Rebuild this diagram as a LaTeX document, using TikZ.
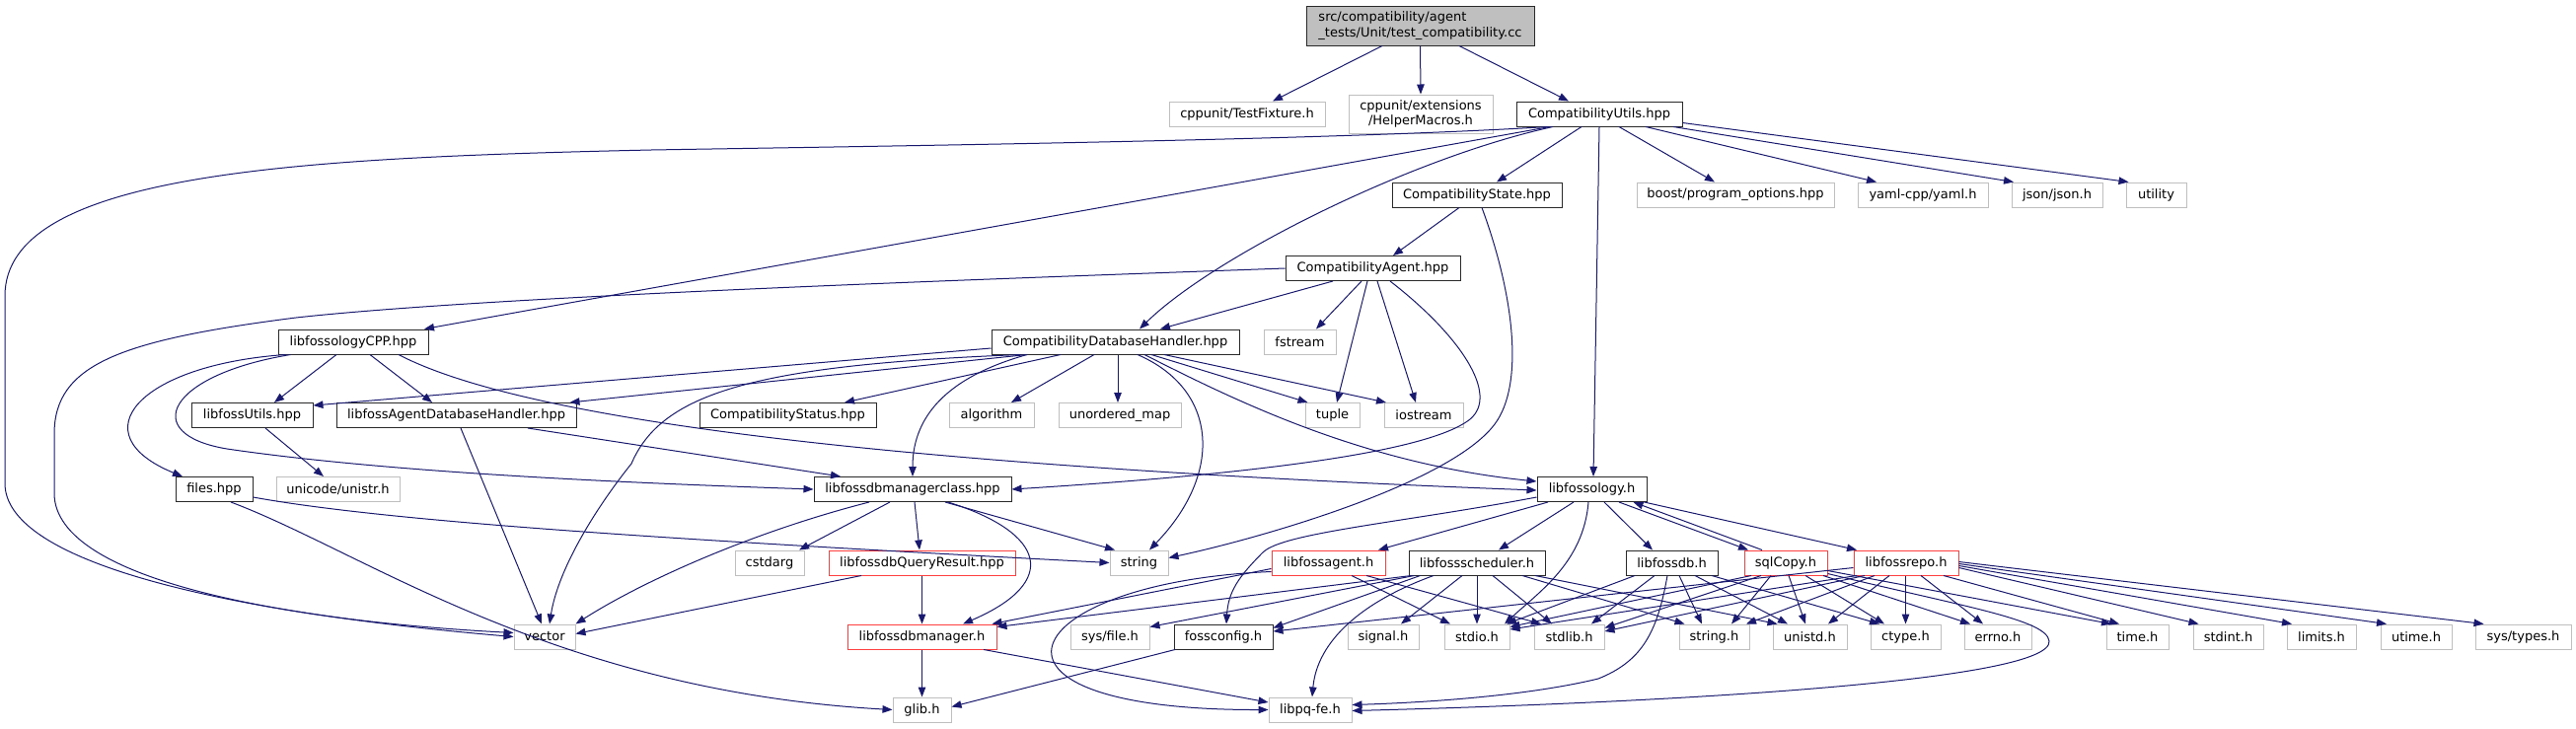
\documentclass[tikz,border=0pt]{standalone}
\usepackage{fontspec}
\newfontfamily\dvs{DejaVu Sans}
\usetikzlibrary{arrows.meta,calc}
\definecolor{edgec}{HTML}{191970}
\definecolor{greyb}{HTML}{BFBFBF}
\definecolor{redb}{HTML}{FF4040}
\definecolor{darkb}{HTML}{2A2A2A}
\definecolor{rootfill}{HTML}{BFBFBF}
\newcommand\gfont{\dvs\fontsize{13}{15.5}\selectfont}
\tikzset{
  nd/.style={draw, rectangle, fill=white, inner sep=0pt, minimum height=25pt, font=\gfont, text=black, line width=1pt},
  docn/.style={nd, draw=darkb},
  extn/.style={nd, draw=greyb},
  redn/.style={nd, draw=redb},
  e/.style={draw=edgec, line width=1pt, -{Triangle[length=10pt,width=7.5pt]}},
}
\begin{document}
\begin{tikzpicture}[x=1pt,y=-1pt]
\fill[white] (0,0) rectangle (2611,739);
\useasboundingbox (0,0) rectangle (2611,739);
% nodes
\node[docn, fill=rootfill, minimum width=231pt, minimum height=40pt, align=left] (root) at (1439.5,26) {src/compatibility/agent\\\_tests/Unit/test\_compatibility.cc};
\node[extn, minimum width=158pt] (tf) at (1264,115.5) {cppunit/TestFixture.h};
\node[extn, minimum width=146pt, minimum height=39pt, align=center] (hm) at (1440,115.5) {cppunit/extensions\\/HelperMacros.h};
\node[docn, minimum width=168pt] (cu) at (1621,115.5) {CompatibilityUtils.hpp};
\node[docn, minimum width=172pt] (cs) at (1497,197.5) {CompatibilityState.hpp};
\node[extn, minimum width=200pt] (boost) at (1759,197.5) {boost/program\_options.hpp};
\node[extn, minimum width=132pt] (yaml) at (1949,197.5) {yaml-cpp/yaml.h};
\node[extn, minimum width=92pt] (json) at (2085,197.5) {json/json.h};
\node[extn, minimum width=61pt] (utility) at (2185.5,197.5) {utility};
\node[docn, minimum width=177pt] (ca) at (1391.5,272) {CompatibilityAgent.hpp};
\node[docn, minimum width=152pt] (lfcpp) at (358,346.5) {libfossologyCPP.hpp};
\node[docn, minimum width=251pt] (cdh) at (1130.5,346.5) {CompatibilityDatabaseHandler.hpp};
\node[extn, minimum width=73pt] (fstream) at (1317.5,346.5) {fstream};
\node[docn, minimum width=123pt] (lfu) at (255.5,421) {libfossUtils.hpp};
\node[docn, minimum width=243pt] (ladh) at (462.5,421) {libfossAgentDatabaseHandler.hpp};
\node[docn, minimum width=179pt] (cstat) at (798.5,421) {CompatibilityStatus.hpp};
\node[extn, minimum width=86pt] (algo) at (1005,421) {algorithm};
\node[extn, minimum width=124pt] (umap) at (1135,421) {unordered\_map};
\node[extn, minimum width=55pt] (tuple) at (1350.5,421) {tuple};
\node[extn, minimum width=80pt] (iostream) at (1443,421) {iostream};
\node[docn, minimum width=78pt] (files) at (217,496) {files.hpp};
\node[extn, minimum width=125pt] (unistr) at (342.5,496) {unicode/unistr.h};
\node[docn, minimum width=200pt] (ldbmc) at (925,496) {libfossdbmanagerclass.hpp};
\node[docn, minimum width=111pt] (lfology) at (1613.5,496) {libfossology.h};
\node[extn, minimum width=70pt] (cstdarg) at (780,570.5) {cstdarg};
\node[redn, minimum width=189pt] (qres) at (934.5,570.5) {libfossdbQueryResult.hpp};
\node[extn, minimum width=59pt] (string) at (1154.5,570.5) {string};
\node[redn, minimum width=115pt] (lfagent) at (1346.5,570.5) {libfossagent.h};
\node[docn, minimum width=138pt] (lfsched) at (1497,570.5) {libfossscheduler.h};
\node[docn, minimum width=93pt] (lfdb) at (1694.5,570.5) {libfossdb.h};
\node[redn, minimum width=84pt] (sqlc) at (1810,570.5) {sqlCopy.h};
\node[redn, minimum width=106pt] (lfrepo) at (1932,570.5) {libfossrepo.h};
\node[extn, minimum width=62pt] (vector) at (552,645.5) {vector};
\node[redn, minimum width=151pt] (ldbm) at (934.5,645.5) {libfossdbmanager.h};
\node[extn, minimum width=80pt] (sysfile) at (1125,645.5) {sys/file.h};
\node[docn, minimum width=100pt] (fossconfig) at (1240,645.5) {fossconfig.h};
\node[extn, minimum width=72pt] (signal) at (1402,645.5) {signal.h};
\node[extn, minimum width=66pt] (stdio) at (1497,645.5) {stdio.h};
\node[extn, minimum width=71pt] (stdlib) at (1590.5,645.5) {stdlib.h};
\node[extn, minimum width=71pt] (stringh) at (1737.5,645.5) {string.h};
\node[extn, minimum width=75pt] (unistd) at (1834.5,645.5) {unistd.h};
\node[extn, minimum width=71pt] (ctype) at (1931.5,645.5) {ctype.h};
\node[extn, minimum width=68pt] (errno) at (2025,645.5) {errno.h};
\node[extn, minimum width=63pt] (timeh) at (2166.5,645.5) {time.h};
\node[extn, minimum width=71pt] (stdint) at (2258.5,645.5) {stdint.h};
\node[extn, minimum width=70pt] (limits) at (2353,645.5) {limits.h};
\node[extn, minimum width=72pt] (utime) at (2449,645.5) {utime.h};
\node[extn, minimum width=97pt] (systypes) at (2557.5,645.5) {sys/types.h};
\node[extn, minimum width=59pt] (glib) at (934.5,719.5) {glib.h};
\node[extn, minimum width=84pt] (libpq) at (1328,719.5) {libpq-fe.h};
% root
\draw[e] ($(root.south)+(-38.5,0)$) -- ($(tf.north)+(26,0)$);
\draw[e] (root.south) -- (hm.north);
\draw[e] ($(root.south)+(39.5,0)$) -- ($(cu.north)+(-31,0)$);
% CompatibilityUtils
\draw[e] ($(cu.south)+(-52,0)$) .. controls (1350,142) and (900,148) .. (660,152) .. controls (300,160) and (5,175) .. (5,300) -- (5,490) .. controls (5,565) and (200,618) .. (vector.west);
\draw[e] ($(cu.south)+(-50,0)$) -- ($(lfcpp.north)+(72,0)$);
\draw[e] ($(cu.south)+(-47,0)$) .. controls (1430,160) and (1230,260) .. ($(cdh.north)+(24.5,0)$);
\draw[e] ($(cu.south)+(-18,0)$) -- ($(cs.north)+(20,0)$);
\draw[e] (cu.south) -- ($(lfology.north)+(1.5,0)$);
\draw[e] ($(cu.south)+(20,0)$) -- ($(boost.north)+(-21,0)$);
\draw[e] ($(cu.south)+(47,0)$) -- ($(yaml.north)+(-47,0)$);
\draw[e] ($(cu.south)+(75,0)$) -- ($(json.north)+(-44,0)$);
\draw[e] ($(cu.south east)+(0,-4)$) -- ($(utility.north)+(-28,0)$);
% CompatibilityState
\draw[e] ($(cs.south)+(-18,0)$) -- ($(ca.north)+(20.5,0)$);
\draw[e] ($(cs.south)+(5,0)$) .. controls (1535,300) and (1545,390) .. (1515,430) .. controls (1470,490) and (1280,545) .. ($(string.east)+(0,-5)$);
% CompatibilityAgent
\draw[e] (ca.west) .. controls (1000,283) and (500,300) .. (300,322) .. controls (120,345) and (55,370) .. (55,440) -- (55,500) .. controls (55,590) and (300,630) .. ($(vector.west)+(0,-4)$);
\draw[e] ($(ca.south)+(-40.5,0)$) -- ($(cdh.north)+(45.5,0)$);
\draw[e] ($(ca.south)+(-11.5,0)$) -- ($(fstream.north)+(16.5,0)$);
\draw[e] ($(ca.south)+(-5.5,0)$) -- ($(tuple.north)+(4.5,0)$);
\draw[e] ($(ca.south)+(4.5,0)$) -- ($(iostream.north)+(-8,0)$);
\draw[e] ($(ca.south)+(17.5,0)$) .. controls (1480,340) and (1520,400) .. (1490,425) .. controls (1440,465) and (1200,485) .. (ldbmc.east);
% libfossologyCPP
\draw[e] ($(lfcpp.south)+(-17,0)$) -- ($(lfu.north)+(22.5,0)$);
\draw[e] ($(lfcpp.south)+(17,0)$) -- ($(ladh.north)+(-24.5,0)$);
\draw[e] ($(lfcpp.south west)+(8,0)$) .. controls (140,370) and (80,440) .. ($(files.north)+(-32,0)$);
\draw[e] ($(lfcpp.south west)+(13,0)$) .. controls (170,380) and (140,440) .. (230,455) .. controls (400,480) and (650,490) .. (ldbmc.west);
\draw[e] ($(lfcpp.south)+(46,0)$) .. controls (520,420) and (850,470) .. ($(lfology.west)+(0,1)$);
% CompatibilityDatabaseHandler
\draw[e] ($(cdh.west)+(0,6.5)$) -- ($(lfu.north east)+(0,3)$);
\draw[e] ($(cdh.south)+(-89.5,0)$) -- ($(ladh.north east)+(-7,0)$);
\draw[e] ($(cdh.south)+(-95.5,0)$) .. controls (760,370) and (670,400) .. (640,470) .. controls (600,520) and (565,580) .. ($(vector.north)+(5,0)$);
\draw[e] ($(cdh.south)+(-55.5,0)$) -- ($(cstat.north)+(57.5,0)$);
\draw[e] ($(cdh.south)+(-89.5,0)$) .. controls (950,385) and (925,430) .. (ldbmc.north);
\draw[e] ($(cdh.south)+(-21.5,0)$) -- ($(algo.north)+(20,0)$);
\draw[e] ($(cdh.south)+(2.5,0)$) -- ($(umap.north)+(-2,0)$);
\draw[e] ($(cdh.south)+(22.5,0)$) .. controls (1235,395) and (1240,480) .. ($(string.north)+(10.5,0)$);
\draw[e] ($(cdh.south)+(29.5,0)$) .. controls (1250,405) and (1380,470) .. ($(lfology.west)+(0,-8)$);
\draw[e] ($(cdh.south)+(36.5,0)$) -- ($(tuple.north)+(-25,0)$);
\draw[e] ($(cdh.south)+(49.5,0)$) -- ($(iostream.north)+(-38,0)$);
% middle
\draw[e] ($(lfu.south)+(13.5,0)$) -- ($(unistr.north)+(-14.5,0)$);
\draw[e] ($(ladh.south)+(4.5,0)$) -- ($(vector.north)+(-3,0)$);
\draw[e] ($(ladh.south)+(72.5,0)$) -- ($(ldbmc.north)+(-73,0)$);
\draw[e] ($(files.east)+(0,8)$) .. controls (400,530) and (700,548) .. (string.west);
\draw[e] ($(files.south)+(17,0)$) .. controls (370,560) and (560,700) .. (glib.west);
\draw[e] ($(ldbmc.south)+(-44,0)$) .. controls (760,540) and (650,590) .. (vector.north east);
\draw[e] ($(ldbmc.south)+(-23,0)$) -- ($(cstdarg.north)+(30,0)$);
\draw[e] ($(ldbmc.south)+(2,0)$) -- ($(qres.north)+(-2.5,0)$);
\draw[e] ($(ldbmc.south)+(36,0)$) .. controls (1060,540) and (1075,590) .. ($(ldbm.north)+(41.5,0)$);
\draw[e] ($(ldbmc.south)+(33,0)$) -- ($(string.north)+(-24.5,0)$);
\draw[e] ($(qres.south)+(-61.5,0)$) -- ($(vector.east)+(0,-3)$);
\draw[e] (qres.south) -- (ldbm.north);
\draw[e] (ldbm.south) -- (glib.north);
\draw[e] ($(ldbm.south)+(62.5,0)$) -- ($(libpq.west)+(0,-7.5)$);
\draw[e] ($(fossconfig.south)+(-49,0)$) -- ($(glib.east)+(0,-3)$);
% libfossology.h
\draw[e] ($(lfology.south)+(-44.5,0)$) -- ($(lfagent.north)+(50.5,0)$);
\draw[e] ($(lfology.south)+(-18.5,0)$) -- ($(lfsched.north)+(22,0)$);
\draw[e] ($(lfology.south)+(-3.5,0)$) .. controls (1605,570) and (1560,600) .. ($(stdio.north)+(28,0)$);
\draw[e] ($(lfology.south)+(12.5,0)$) -- ($(lfdb.north)+(-19.5,0)$);
\draw[e] ($(lfology.south)+(27.5,0)$) -- ($(sqlc.north)+(-38,0)$);
\draw[e] ($(lfology.south east)+(-3,0)$) -- ($(lfrepo.north)+(-50,0)$);
\draw[e] ($(lfology.west)+(0,8)$) .. controls (1420,530) and (1300,540) .. (1280,560) .. controls (1255,585) and (1245,600) .. ($(fossconfig.north)+(3,0)$);
\draw[e] ($(sqlc.north)+(-24,0)$) -- ($(lfology.south east)+(-14,0)$);
% libfossagent.h
\draw[e] ($(lfagent.west)+(0,6)$) -- ($(ldbm.north east)+(-5,0)$);
\draw[e] ($(lfagent.west)+(0,9)$) .. controls (1030,590) and (960,720) .. (libpq.west);
\draw[e] ($(lfagent.south)+(23.5,0)$) -- ($(stdio.north)+(-27,0)$);
\draw[e] ($(lfagent.south)+(38.5,0)$) -- ($(stdlib.north)+(-28.5,0)$);
% libfossscheduler.h
\draw[e] ($(lfsched.south west)+(3,0)$) -- ($(ldbm.north east)+(0,3)$);
\draw[e] ($(lfsched.south west)+(6,0)$) -- ($(sysfile.north east)+(0,3)$);
\draw[e] ($(lfsched.south west)+(12,0)$) -- ($(fossconfig.north east)+(0,4)$);
\draw[e] ($(lfsched.south)+(-44,0)$) .. controls (1380,610) and (1335,650) .. ($(libpq.north)+(2,0)$);
\draw[e] ($(lfsched.south)+(-15,0)$) -- ($(signal.north)+(18,0)$);
\draw[e] (lfsched.south) -- (stdio.north);
\draw[e] ($(lfsched.south)+(16,0)$) -- ($(stdlib.north)+(-17.5,0)$);
\draw[e] ($(lfsched.south)+(46,0)$) -- ($(stringh.north)+(-30,0)$);
\draw[e] ($(lfsched.south)+(59,0)$) -- ($(unistd.north)+(-33,0)$);
% libfossdb.h
\draw[e] ($(lfdb.south)+(-37.5,0)$) -- ($(stdio.north)+(30,0)$);
\draw[e] ($(lfdb.south)+(-17.5,0)$) -- ($(stdlib.north)+(22.5,0)$);
\draw[e] ($(lfdb.south)+(-4.5,0)$) .. controls (1680,640) and (1665,670) .. (1620,688) .. controls (1550,705) and (1450,712) .. ($(libpq.east)+(0,-5)$);
\draw[e] ($(lfdb.south)+(7.5,0)$) -- ($(stringh.north)+(-12.5,0)$);
\draw[e] ($(lfdb.south)+(23.5,0)$) -- ($(unistd.north)+(-22.5,0)$);
\draw[e] ($(lfdb.south)+(40.5,0)$) -- ($(ctype.north)+(-26.5,0)$);
% sqlCopy.h
\draw[e] ($(sqlc.south)+(-35,0)$) -- ($(stdio.north east)+(0,3)$);
\draw[e] ($(sqlc.south)+(-25,0)$) -- ($(stdlib.north east)+(0,4)$);
\draw[e] ($(sqlc.south)+(-15,0)$) -- ($(stringh.north)+(17.5,0)$);
\draw[e] ($(sqlc.south)+(3,0)$) -- ($(unistd.north)+(-4.5,0)$);
\draw[e] ($(sqlc.south)+(20,0)$) -- ($(ctype.north)+(-21.5,0)$);
\draw[e] ($(sqlc.south)+(38,0)$) -- ($(errno.north)+(-28,0)$);
\draw[e] ($(sqlc.east)+(0,8)$) -- ($(timeh.north)+(-26.5,0)$);
\draw[e] ($(sqlc.east)+(0,11)$) .. controls (1990,615) and (2075,628) .. (2077,650) .. controls (2080,690) and (1700,712) .. ($(libpq.east)+(0,1)$);
% libfossrepo.h
\draw[e] ($(lfrepo.west)+(0,5)$) -- ($(fossconfig.east)+(0,-5.5)$);
\draw[e] ($(lfrepo.south)+(-50,0)$) -- ($(stdio.east)+(0,-7.5)$);
\draw[e] ($(lfrepo.south)+(-42,0)$) -- ($(stdlib.east)+(0,-5.5)$);
\draw[e] ($(lfrepo.south)+(-32,0)$) -- ($(stringh.north)+(32.5,0)$);
\draw[e] ($(lfrepo.south)+(-17,0)$) -- ($(unistd.north)+(18.5,0)$);
\draw[e] ($(lfrepo.south)+(-0.5,0)$) -- (ctype.north);
\draw[e] ($(lfrepo.south)+(15,0)$) -- ($(errno.north)+(-15,0)$);
\draw[e] ($(lfrepo.south)+(38,0)$) -- ($(timeh.north)+(-18.5,0)$);
\draw[e] ($(lfrepo.east)+(0,5)$) -- ($(stdint.north)+(-30,0)$);
\draw[e] ($(lfrepo.east)+(0,3)$) -- ($(limits.north)+(-30,0)$);
\draw[e] ($(lfrepo.east)+(0,1)$) -- ($(utime.north)+(-30,0)$);
\draw[e] ($(lfrepo.east)+(0,-1)$) -- ($(systypes.north)+(-40,0)$);
\end{tikzpicture}
\end{document}
